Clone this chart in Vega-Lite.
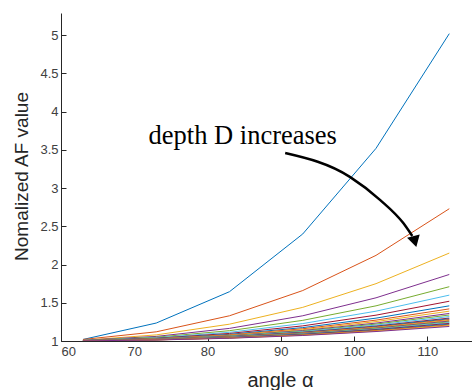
{
  "$schema": "https://vega.github.io/schema/vega-lite/v6.json",
  "width": 411,
  "height": 328,
  "autosize": "none",
  "padding": {"left": 61, "top": 13, "right": 0, "bottom": 49},
  "background": "white",
  "config": {"view": {"stroke": null}},
  "datasets": {
    "lines": [
      {"s":"L01","x":63,"y":1.02},{"s":"L01","x":73,"y":1.235},{"s":"L01","x":83,"y":1.645},{"s":"L01","x":93,"y":2.40},{"s":"L01","x":103,"y":3.52},{"s":"L01","x":113,"y":5.02},
      {"s":"L02","x":63,"y":1.02},{"s":"L02","x":73,"y":1.12},{"s":"L02","x":83,"y":1.33},{"s":"L02","x":93,"y":1.66},{"s":"L02","x":103,"y":2.12},{"s":"L02","x":113,"y":2.73},
      {"s":"L03","x":63,"y":1.01},{"s":"L03","x":73,"y":1.08},{"s":"L03","x":83,"y":1.22},{"s":"L03","x":93,"y":1.44},{"s":"L03","x":103,"y":1.75},{"s":"L03","x":113,"y":2.15},
      {"s":"L04","x":63,"y":1.01},{"s":"L04","x":73,"y":1.06},{"s":"L04","x":83,"y":1.165},{"s":"L04","x":93,"y":1.33},{"s":"L04","x":103,"y":1.565},{"s":"L04","x":113,"y":1.87},
      {"s":"L05","x":63,"y":1.007},{"s":"L05","x":73,"y":1.05},{"s":"L05","x":83,"y":1.135},{"s":"L05","x":93,"y":1.27},{"s":"L05","x":103,"y":1.46},{"s":"L05","x":113,"y":1.71},
      {"s":"L06","x":63,"y":1.006},{"s":"L06","x":73,"y":1.042},{"s":"L06","x":83,"y":1.114},{"s":"L06","x":93,"y":1.228},{"s":"L06","x":103,"y":1.39},{"s":"L06","x":113,"y":1.60},
      {"s":"L07","x":63,"y":1.005},{"s":"L07","x":73,"y":1.036},{"s":"L07","x":83,"y":1.099},{"s":"L07","x":93,"y":1.198},{"s":"L07","x":103,"y":1.338},{"s":"L07","x":113,"y":1.52},
      {"s":"L08","x":63,"y":1.005},{"s":"L08","x":73,"y":1.032},{"s":"L08","x":83,"y":1.087},{"s":"L08","x":93,"y":1.175},{"s":"L08","x":103,"y":1.299},{"s":"L08","x":113,"y":1.46},
      {"s":"L09","x":63,"y":1.004},{"s":"L09","x":73,"y":1.029},{"s":"L09","x":83,"y":1.08},{"s":"L09","x":93,"y":1.16},{"s":"L09","x":103,"y":1.273},{"s":"L09","x":113,"y":1.42},
      {"s":"L10","x":63,"y":1.004},{"s":"L10","x":73,"y":1.027},{"s":"L10","x":83,"y":1.074},{"s":"L10","x":93,"y":1.148},{"s":"L10","x":103,"y":1.254},{"s":"L10","x":113,"y":1.39},
      {"s":"L11","x":63,"y":1.004},{"s":"L11","x":73,"y":1.025},{"s":"L11","x":83,"y":1.068},{"s":"L11","x":93,"y":1.137},{"s":"L11","x":103,"y":1.234},{"s":"L11","x":113,"y":1.36},
      {"s":"L12","x":63,"y":1.003},{"s":"L12","x":73,"y":1.024},{"s":"L12","x":83,"y":1.065},{"s":"L12","x":93,"y":1.129},{"s":"L12","x":103,"y":1.221},{"s":"L12","x":113,"y":1.34},
      {"s":"L13","x":63,"y":1.003},{"s":"L13","x":73,"y":1.022},{"s":"L13","x":83,"y":1.061},{"s":"L13","x":93,"y":1.122},{"s":"L13","x":103,"y":1.208},{"s":"L13","x":113,"y":1.32},
      {"s":"L14","x":63,"y":1.003},{"s":"L14","x":73,"y":1.021},{"s":"L14","x":83,"y":1.057},{"s":"L14","x":93,"y":1.114},{"s":"L14","x":103,"y":1.195},{"s":"L14","x":113,"y":1.30},
      {"s":"L15","x":63,"y":1.003},{"s":"L15","x":73,"y":1.02},{"s":"L15","x":83,"y":1.055},{"s":"L15","x":93,"y":1.11},{"s":"L15","x":103,"y":1.189},{"s":"L15","x":113,"y":1.29},
      {"s":"L16","x":63,"y":1.003},{"s":"L16","x":73,"y":1.02},{"s":"L16","x":83,"y":1.053},{"s":"L16","x":93,"y":1.106},{"s":"L16","x":103,"y":1.182},{"s":"L16","x":113,"y":1.28},
      {"s":"L17","x":63,"y":1.003},{"s":"L17","x":73,"y":1.019},{"s":"L17","x":83,"y":1.051},{"s":"L17","x":93,"y":1.103},{"s":"L17","x":103,"y":1.176},{"s":"L17","x":113,"y":1.27},
      {"s":"L18","x":63,"y":1.003},{"s":"L18","x":73,"y":1.018},{"s":"L18","x":83,"y":1.049},{"s":"L18","x":93,"y":1.099},{"s":"L18","x":103,"y":1.169},{"s":"L18","x":113,"y":1.26},
      {"s":"L19","x":63,"y":1.003},{"s":"L19","x":73,"y":1.018},{"s":"L19","x":83,"y":1.048},{"s":"L19","x":93,"y":1.095},{"s":"L19","x":103,"y":1.163},{"s":"L19","x":113,"y":1.25},
      {"s":"L20","x":63,"y":1.002},{"s":"L20","x":73,"y":1.017},{"s":"L20","x":83,"y":1.046},{"s":"L20","x":93,"y":1.091},{"s":"L20","x":103,"y":1.156},{"s":"L20","x":113,"y":1.24},
      {"s":"L21","x":63,"y":1.002},{"s":"L21","x":73,"y":1.016},{"s":"L21","x":83,"y":1.044},{"s":"L21","x":93,"y":1.087},{"s":"L21","x":103,"y":1.15},{"s":"L21","x":113,"y":1.23},
      {"s":"L22","x":63,"y":1.002},{"s":"L22","x":73,"y":1.015},{"s":"L22","x":83,"y":1.042},{"s":"L22","x":93,"y":1.084},{"s":"L22","x":103,"y":1.143},{"s":"L22","x":113,"y":1.22},
      {"s":"L23","x":63,"y":1.002},{"s":"L23","x":73,"y":1.015},{"s":"L23","x":83,"y":1.04},{"s":"L23","x":93,"y":1.08},{"s":"L23","x":103,"y":1.137},{"s":"L23","x":113,"y":1.21},
      {"s":"L24","x":63,"y":1.002},{"s":"L24","x":73,"y":1.014},{"s":"L24","x":83,"y":1.038},{"s":"L24","x":93,"y":1.076},{"s":"L24","x":103,"y":1.13},{"s":"L24","x":113,"y":1.20},
      {"s":"L25","x":63,"y":1.002},{"s":"L25","x":73,"y":1.013},{"s":"L25","x":83,"y":1.036},{"s":"L25","x":93,"y":1.072},{"s":"L25","x":103,"y":1.124},{"s":"L25","x":113,"y":1.19}
    ],
    "arrow": [
      {"o":1,"x":90.6,"y":3.458},
      {"o":2,"x":99.48,"y":3.144},
      {"o":3,"x":103.58,"y":2.843},
      {"o":4,"x":106.72,"y":2.542},
      {"o":5,"x":107.95,"y":2.373}
    ],
    "head": [{"x":108.3,"y":2.30}],
    "label": [{"x":84.8,"y":3.575,"t":"depth D increases"}]
  },
  "layer": [
    {
      "data": {"name": "lines"},
      "mark": {"type": "line", "strokeWidth": 1, "clip": true},
      "encoding": {
        "x": {
          "field": "x", "type": "quantitative",
          "scale": {"domain": [60, 116.1], "nice": false, "zero": false},
          "axis": {
            "values": [60, 70, 80, 90, 100, 110],
            "grid": false,
            "domainColor": "#262626",
            "tickColor": "#262626",
            "tickSize": -5,
            "labelPadding": 9,
            "labelFont": "Liberation Sans",
            "labelFontSize": 13,
            "labelColor": "#404040",
            "title": "angle α",
            "titleFont": "Liberation Sans",
            "titleFontSize": 20,
            "titleFontWeight": "normal",
            "titleColor": "#262626",
            "titleX": 219,
            "titleY": 45,
            "titleBaseline": "alphabetic",
            "titleAnchor": null
          }
        },
        "y": {
          "field": "y", "type": "quantitative",
          "scale": {"domain": [1, 5.29], "nice": false, "zero": false},
          "axis": {
            "values": [1, 1.5, 2, 2.5, 3, 3.5, 4, 4.5, 5],
            "format": ".1~f",
            "grid": false,
            "domainColor": "#262626",
            "tickColor": "#262626",
            "tickSize": -5,
            "labelPadding": 8,
            "labelFont": "Liberation Sans",
            "labelFontSize": 13,
            "labelColor": "#404040",
            "title": "Nomalized AF value",
            "titleFont": "Liberation Sans",
            "titleFontSize": 19,
            "titleFontWeight": "normal",
            "titleColor": "#262626",
            "titleAngle": 270,
            "titleX": -40,
            "titleY": 163,
            "titleBaseline": "middle",
            "titleAlign": "center",
            "titleAnchor": null
          }
        },
        "color": {
          "field": "s", "type": "nominal",
          "scale": {"range": ["#0072BD", "#D95319", "#EDB120", "#7E2F8E", "#77AC30", "#4DBEEE", "#A2142F"]},
          "legend": null
        }
      }
    },
    {
      "data": {"name": "arrow"},
      "mark": {"type": "line", "color": "black", "strokeWidth": 2.5, "interpolate": "monotone"},
      "encoding": {
        "x": {"field": "x", "type": "quantitative"},
        "y": {"field": "y", "type": "quantitative"},
        "order": {"field": "o", "type": "quantitative"}
      }
    },
    {
      "data": {"name": "head"},
      "mark": {"type": "point", "shape": "triangle-down", "filled": true, "color": "black", "opacity": 1, "size": 170, "angle": 345},
      "encoding": {
        "x": {"field": "x", "type": "quantitative"},
        "y": {"field": "y", "type": "quantitative"}
      }
    },
    {
      "data": {"name": "label"},
      "mark": {"type": "text", "font": "Liberation Serif", "fontSize": 26.5, "color": "black", "align": "center", "baseline": "alphabetic"},
      "encoding": {
        "x": {"field": "x", "type": "quantitative"},
        "y": {"field": "y", "type": "quantitative"},
        "text": {"field": "t"}
      }
    }
  ]
}
